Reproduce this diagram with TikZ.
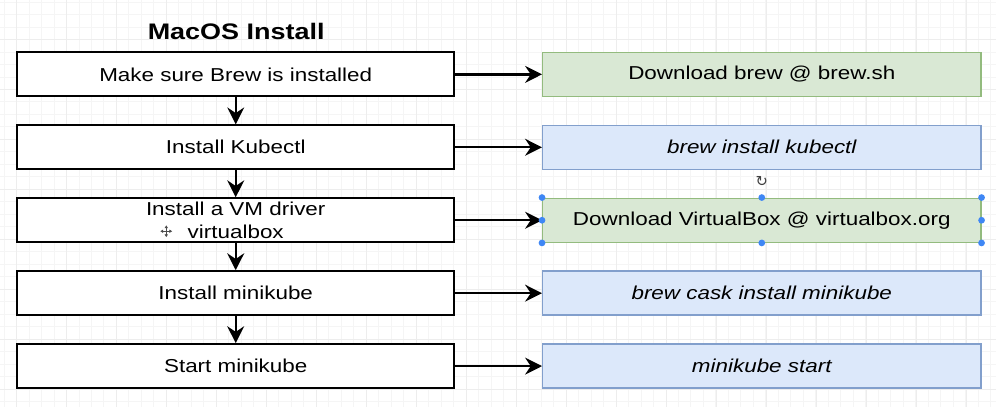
\documentclass[tikz,border=0pt]{standalone}
\usepackage{fontspec}
\setmainfont[FakeStretch=1.2]{Liberation Sans}
\newfontfamily\symfont{DejaVu Sans}
\usetikzlibrary{arrows.meta}
\definecolor{notegreen}{HTML}{D9E8D4}
\definecolor{notegreenline}{HTML}{93BB7E}
\definecolor{noteblue}{HTML}{DCE8FA}
\definecolor{noteblueline}{HTML}{829FCC}
\definecolor{handleblue}{HTML}{3F87F5}
\begin{document}
\begin{tikzpicture}[x=0.025cm,y=-0.025cm,
  stepnode/.style={draw, line width=1.4pt, fill=white, minimum width=10.93cm,
    minimum height=1.1cm, inner sep=0pt, align=center,
    font=\fontsize{13.3}{16}\selectfont},
  greennote/.style={draw=notegreenline, line width=1pt, fill=notegreen,
    minimum width=10.96cm, minimum height=1.1cm, inner sep=0pt,
    font=\fontsize{13.3}{16}\selectfont},
  bluenote/.style={greennote, draw=noteblueline, fill=noteblue,
    font=\fontsize{13.3}{16}\selectfont\itshape},
  flow/.style={line width=1.7pt, -{Stealth[length=12pt,width=12pt,inset=4pt]}},
  handle/.style={fill=handleblue}]
% background grid
\fill[white] (0,0) rectangle (996,407);
\foreach \gx in {3.5,16,...,996} \draw[black!4, line width=0.5pt] (\gx,0) -- (\gx,407);
\foreach \gy in {1.5,14,...,407} \draw[black!4, line width=0.5pt] (0,\gy) -- (996,\gy);
\foreach \gx in {16.5,66.5,...,996} \draw[black!7, line width=0.6pt] (\gx,0) -- (\gx,407);
\foreach \gy in {39,89,...,407} \draw[black!7, line width=0.6pt] (0,\gy) -- (996,\gy);
\useasboundingbox (0,0) rectangle (996,407);
% title
\node[font=\bfseries\fontsize{16}{18}\selectfont, anchor=base] (title) at (236,39) {MacOS Install};
% steps
\node[stepnode] (brew) at (235.5,74) {Make sure Brew is installed};
\node[stepnode] (kubectl) at (235.5,147) {Install Kubectl};
\node[stepnode] (vmdriver) at (235.5,220) {Install a VM driver\\virtualbox};
\node[stepnode] (minikube) at (235.5,293) {Install minikube};
\node[stepnode] (start) at (235.5,366) {Start minikube};
% how to
\node[greennote] (getbrew) at (762,74) {Download brew @ brew.sh};
\node[bluenote] (brewkubectl) at (762,147) {brew install kubectl};
\node[greennote] (getvbox) at (762,220) {Download VirtualBox @ virtualbox.org};
\node[bluenote] (caskminikube) at (762,293) {brew cask install minikube};
\node[bluenote] (ministart) at (762,366) {minikube start};
% arrows
\draw[flow] (brew) -- (kubectl);
\draw[flow] (kubectl) -- (vmdriver);
\draw[flow] (vmdriver) -- (minikube);
\draw[flow] (minikube) -- (start);
\draw[flow] (brew) -- (getbrew);
\draw[flow] (kubectl) -- (brewkubectl);
\draw[flow] (vmdriver) -- (getvbox);
\draw[flow] (minikube) -- (caskminikube);
\draw[flow] (start) -- (ministart);
% selection handles
\foreach \anc in {north west,north,north east,west,east,south west,south,south east}
  \fill[handle] (getvbox.\anc) circle[radius=2.4pt];
\node[font=\symfont\fontsize{10.5}{10.5}\selectfont, text=black!75] (rotate) at (762,181) {↻};
% move cursor
\draw[black!70, line width=0.8pt, {Latex[length=2pt,width=2.6pt]}-{Latex[length=2pt,width=2.6pt]}] (160,231) -- (172,231);
\draw[black!70, line width=0.8pt, {Latex[length=2pt,width=2.6pt]}-{Latex[length=2pt,width=2.6pt]}] (166,225) -- (166,237);
\end{tikzpicture}
\end{document}
